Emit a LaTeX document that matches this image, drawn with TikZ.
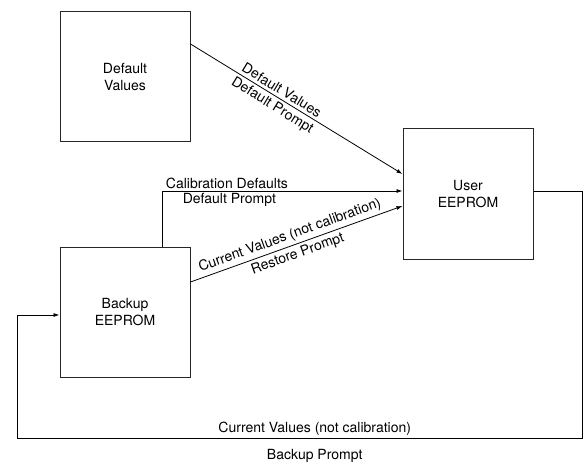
\documentclass[tikz,border=0pt]{standalone}
\usepackage{fontspec}
\setmainfont{TeX Gyre Heros}
\usepackage{tikz}
\usetikzlibrary{arrows.meta, positioning}

\begin{document}
\begin{tikzpicture}[
    x=1pt, y=-1pt,
    every node/.style={font=\fontsize{14}{17}\selectfont},
    block/.style={rectangle, draw=black!85, minimum width=130pt,
                  minimum height=130pt, align=center, line width=1pt},
    arrow/.style={-{Latex[length=6pt,width=4pt]}, line width=0.8pt},
    tag/.style={inner sep=2pt},
    slanted/.style={sloped, inner sep=3pt}
]
\useasboundingbox (0,0) rectangle (586,465);

% Blocks
\node[block] (defaults) at (125,77) {Default\\Values};
\node[block, below=104pt of defaults] (backup) {Backup\\EEPROM};
\node[block] (user) at (468,194) {User\\EEPROM};

% Connectors
\draw[arrow] ([yshift=33pt]defaults.east) -- ([yshift=20pt]user.west)
    node[slanted, above, pos=0.41] {Default Values}
    node[slanted, below, pos=0.41] {Default Prompt};
\draw[arrow] ([xshift=37pt]backup.north) |- ([yshift=3pt]user.west)
    node[tag, above, pos=0.635] {Calibration Defaults}
    node[tag, below, pos=0.64] {Default Prompt};
\draw[arrow] ([yshift=30pt]backup.east) -- ([yshift=-12pt]user.west)
    node[slanted, above, pos=0.485] {Current Values (not calibration)}
    node[slanted, below, pos=0.49] {Restore Prompt};

% Loop back round the bottom
\coordinate (loopR) at (582,438);
\coordinate (loopL) at (17,438);
\draw[arrow] ([yshift=3pt]user.east) -| (loopR) -- (loopL)
    node[tag, above, pos=0.473] {Current Values (not calibration)}
    node[tag, below=9pt, pos=0.473] {Backup Prompt}
    |- ([yshift=-3pt]backup.west);

\end{tikzpicture}
\end{document}
